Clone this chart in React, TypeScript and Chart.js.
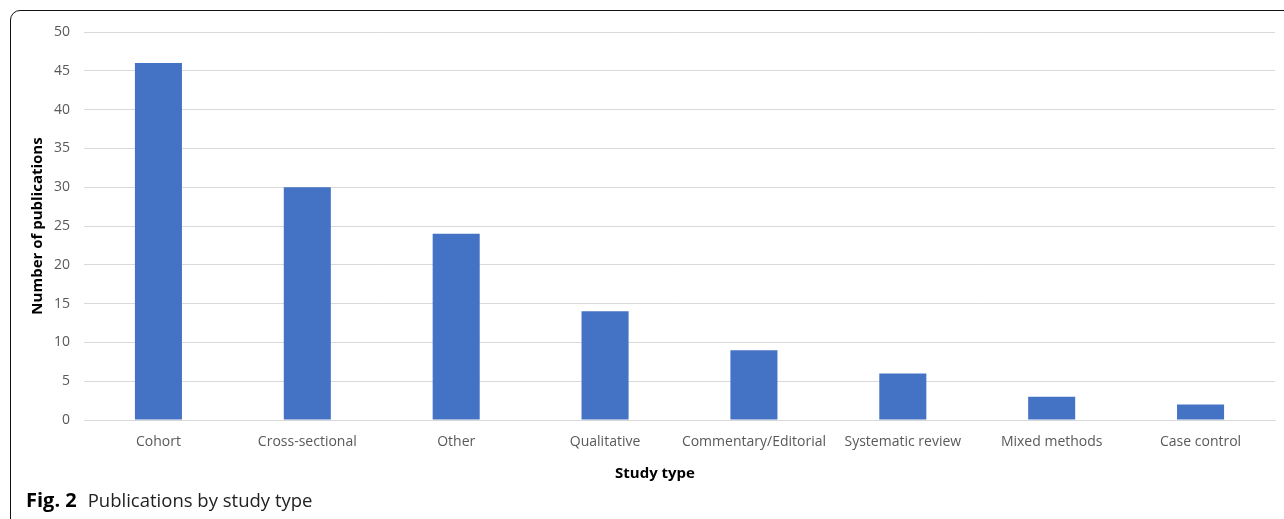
import React, { useEffect, useRef } from "react";
import { Chart, registerables } from "chart.js";

Chart.register(...registerables);

const categories = [
  "Cohort",
  "Cross-sectional",
  "Other",
  "Qualitative",
  "Commentary/Editorial",
  "Systematic review",
  "Mixed methods",
  "Case control",
];
const publications = [46, 30, 24, 14, 9, 6, 3, 2];
const yTicks = [0, 5, 10, 15, 20, 25, 30, 35, 40, 45, 50];

const FONT = "'Open Sans', 'Noto Sans', sans-serif";

export default function App() {
  const ref = useRef<HTMLCanvasElement | null>(null);

  useEffect(() => {
    if (!ref.current) return;
    const chart = new Chart(ref.current, {
      type: "bar",
      data: {
        labels: categories,
        datasets: [
          {
            data: publications,
            backgroundColor: "#4472C4",
            borderWidth: 0,
            barPercentage: 1,
            categoryPercentage: 0.316,
          },
        ],
      },
      options: {
        animation: false,
        responsive: false,
        maintainAspectRatio: false,
        layout: { padding: { left: 29, top: 32, right: 9, bottom: 0 } },
        plugins: { legend: { display: false }, tooltip: { enabled: false } },
        scales: {
          x: {
            grid: { display: false, drawTicks: false },
            border: { display: true, color: "#d9d9d9", width: 1 },
            ticks: {
              color: "#595959",
              font: { family: FONT, size: 14 },
              padding: 14,
              maxRotation: 0,
              autoSkip: false,
            },
            afterFit: (s: any) => {
              s.height = 70;
            },
          },
          y: {
            min: 0,
            max: 50,
            afterBuildTicks: (s: any) => {
              s.ticks = yTicks.map((v) => ({ value: v }));
            },
            grid: { color: "#d9d9d9", drawTicks: false, lineWidth: 1 },
            border: { display: false },
            ticks: {
              color: "#595959",
              font: { family: FONT, size: 14 },
              padding: 14,
            },
            title: {
              display: true,
              text: "Number of publications",
              color: "#000",
              font: { family: FONT, size: 15, weight: "bold" },
              padding: 0,
            },
            afterFit: (s: any) => {
              s.width = 55;
            },
          },
        },
      },
    });
    return () => chart.destroy();
  }, []);

  return (
    <div
      style={{
        position: "fixed",
        left: 0,
        top: 0,
        width: 1284,
        height: 519,
        overflow: "hidden",
        background: "#fff",
      }}
    >
      <div
        style={{
          position: "absolute",
          left: 10,
          top: 10,
          width: 1400,
          height: 600,
          border: "1.5px solid #111",
          borderTopLeftRadius: 10,
          boxSizing: "border-box",
        }}
      />
      <canvas
        ref={ref}
        width={1284}
        height={490}
        style={{ position: "absolute", left: 0, top: 0, width: 1284, height: 490 }}
      />
      <div
        style={{
          position: "absolute",
          left: 555,
          width: 200,
          top: 461,
          textAlign: "center",
          fontFamily: FONT,
          fontSize: 15,
          fontWeight: "bold",
          color: "#000",
          lineHeight: "22px",
        }}
      >
        Study type
      </div>
      <div
        style={{
          position: "absolute",
          left: 26,
          top: 486,
          fontFamily: FONT,
          fontSize: 18.5,
          color: "#222",
          whiteSpace: "nowrap",
          lineHeight: "28px",
        }}
      >
        <b style={{ color: "#000", fontSize: 20 }}>Fig. 2</b>
        <span style={{ marginLeft: 11 }}>Publications by study type</span>
      </div>
    </div>
  );
}
